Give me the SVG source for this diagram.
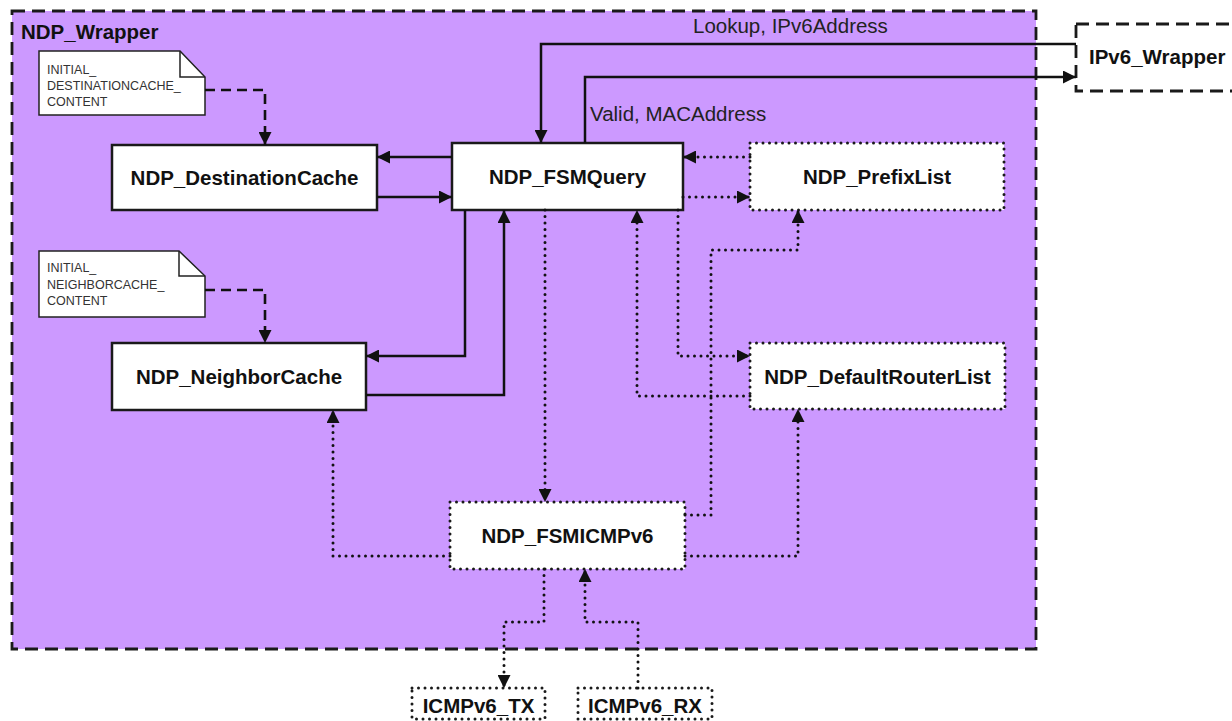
<svg xmlns="http://www.w3.org/2000/svg" width="1232" height="721" viewBox="0 0 1232 721">
<defs>
<marker id="ah" viewBox="0 0 13 13" refX="13" refY="6.5" markerWidth="13" markerHeight="13" markerUnits="userSpaceOnUse" orient="auto"><path d="M0,0 L13,6.5 L0,13 z" fill="#111"/></marker>
<style>
.lbl{font-family:"Liberation Sans",Arial,sans-serif;font-weight:bold;font-size:20.5px;fill:#111;text-anchor:middle}
.elbl{font-family:"Liberation Sans",Arial,sans-serif;font-size:20.5px;fill:#222}
.note{font-family:"Liberation Sans",Arial,sans-serif;font-size:12.5px;fill:#333}
.solidbox{fill:#fff;stroke:#1a1a1a;stroke-width:2.5}
.dotbox{fill:#fff;stroke:#1a1a1a;stroke-width:3;stroke-dasharray:0 6.5;stroke-linecap:round}
.dashbox{stroke:#1a1a1a;stroke-width:2.8;stroke-dasharray:13 7}
.solid{fill:none;stroke:#111;stroke-width:2.5;marker-end:url(#ah)}
.dotted{fill:none;stroke:#111;stroke-width:3;stroke-dasharray:0 6.5;stroke-linecap:round;marker-end:url(#ah)}
.dashed{fill:none;stroke:#111;stroke-width:2.6;stroke-dasharray:10 6;marker-end:url(#ah)}
</style>
</defs>
<g id="NDP_Wrapper">
<rect x="12" y="11" width="1024" height="638" fill="#cc99ff" class="dashbox"/>
<text x="21" y="39" class="lbl" style="text-anchor:start">NDP_Wrapper</text>
</g>
<g id="IPv6_Wrapper">
<rect x="1076" y="24" width="170" height="67" fill="#fff" class="dashbox"/>
<text x="1089" y="64" class="lbl" style="text-anchor:start">IPv6_Wrapper</text>
</g>
<g id="note_destcache">
<path d="M39,51 H180 L205,77 V115 H39 Z" fill="#fff" stroke="#222" stroke-width="1.5"/>
<path d="M180,51 V77 H205" fill="none" stroke="#222" stroke-width="1.5"/>
<text class="note" x="47" y="74">INITIAL_</text>
<text class="note" x="47" y="90">DESTINATIONCACHE_</text>
<text class="note" x="47" y="106">CONTENT</text>
</g>
<g id="note_neighborcache">
<path d="M39,251 H179 L205,276 V317 H39 Z" fill="#fff" stroke="#222" stroke-width="1.5"/>
<path d="M179,251 V276 H205" fill="none" stroke="#222" stroke-width="1.5"/>
<text class="note" x="47" y="272">INITIAL_</text>
<text class="note" x="47" y="289">NEIGHBORCACHE_</text>
<text class="note" x="47" y="305">CONTENT</text>
</g>
<g id="NDP_DestinationCache">
<rect x="112" y="145" width="265" height="65" class="solidbox"/>
<text x="244.5" y="185" class="lbl">NDP_DestinationCache</text>
</g>
<g id="NDP_FSMQuery">
<rect x="452" y="143" width="231" height="67" class="solidbox"/>
<text x="567.5" y="184" class="lbl">NDP_FSMQuery</text>
</g>
<g id="NDP_PrefixList">
<rect x="750" y="143" width="254" height="67" class="dotbox"/>
<text x="877" y="184" class="lbl">NDP_PrefixList</text>
</g>
<g id="NDP_NeighborCache">
<rect x="112" y="343" width="254" height="67" class="solidbox"/>
<text x="239" y="384" class="lbl">NDP_NeighborCache</text>
</g>
<g id="NDP_DefaultRouterList">
<rect x="750" y="343" width="255" height="66" class="dotbox"/>
<text x="877.5" y="383.5" class="lbl">NDP_DefaultRouterList</text>
</g>
<g id="NDP_FSMICMPv6">
<rect x="450" y="502" width="235" height="67" class="dotbox"/>
<text x="567.5" y="543" class="lbl">NDP_FSMICMPv6</text>
</g>
<g id="ICMPv6_TX">
<rect x="412" y="688" width="133" height="31" class="dotbox"/>
<text x="478.5" y="713" class="lbl">ICMPv6_TX</text>
</g>
<g id="ICMPv6_RX">
<rect x="578" y="688" width="134" height="31" class="dotbox"/>
<text x="645" y="713" class="lbl">ICMPv6_RX</text>
</g>
<g id="connectors">
<path class="solid" d="M1076,44 H541 V143"/>
<path class="solid" d="M585,143 V77 H1076"/>
<path class="solid" d="M452,157 H377"/>
<path class="solid" d="M377,197 H452"/>
<path class="solid" d="M465,210 V356 H366"/>
<path class="solid" d="M366,395 H504 V210"/>
<path class="dashed" d="M205,90 H265 V145"/>
<path class="dashed" d="M205,290 H265 V343"/>
<path class="dotted" d="M750,157 H683"/>
<path class="dotted" d="M683,197 H750"/>
<path class="dotted" d="M545,210 V502"/>
<path class="dotted" d="M678,210 V356 H750"/>
<path class="dotted" d="M750,396 H637 V210"/>
<path class="dotted" d="M685,515 H711 V250 H798 V210"/>
<path class="dotted" d="M685,556 H798 V409"/>
<path class="dotted" d="M450,556 H333 V410"/>
<path class="dotted" d="M544,569 V622 H504 V688"/>
<path class="dotted" d="M638,688 V622 H585 V569"/>
<text class="elbl" x="693" y="33">Lookup, IPv6Address</text>
<text class="elbl" x="590" y="121">Valid, MACAddress</text>
</g>
</svg>
